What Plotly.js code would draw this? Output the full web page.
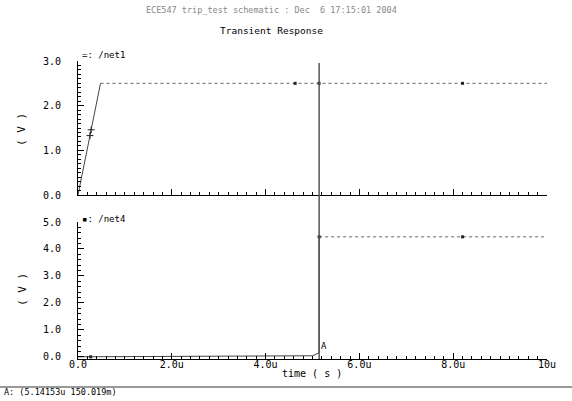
<!DOCTYPE html>
<html><head><meta charset="utf-8">
<script src="https://cdn.plot.ly/plotly-3.0.1.min.js"></script>
<style>html,body{margin:0;padding:0;background:#fff}#c{width:572px;height:401px}</style>
</head><body><div id="c"></div>
<script>
// time in microseconds
var net1RampT = [0, 0.48];
var net1RampV = [0, 2.5];
var net1FlatT = [0.48, 10];
var net1FlatV = [2.5, 2.5];
var net1CrossT = [0.255, 0.28];
var net1CrossV = [1.33, 1.46];
var net1SqT = [4.63, 5.14, 8.2];
var net1SqV = [2.5, 2.5, 2.5];

var net4LowT = [0, 4.6, 5.0, 5.14153];
var net4LowV = [0, 0.015, 0.04, 0.150019];
var net4JumpT = [5.14153, 5.14153];
var net4JumpV = [0.150019, 4.45];
var net4HighT = [5.14153, 10];
var net4HighV = [4.45, 4.45];
var net4SqT = [0.27, 5.14153, 8.2];
var net4SqV = [0, 4.45, 4.45];

var xLabelAlias = {"0.0": "0.0", "2.0": "2.0u", "4.0": "4.0u", "6.0": "6.0u", "8.0": "8.0u", "10.0": "10u"};

var cursorT = 5.14153;

var F = "DejaVu Sans Mono, monospace";

var lineTraces = [
  {x: net1RampT, y: net1RampV, xaxis: 'x', yaxis: 'y', mode: 'lines', line: {color: '#444', width: 1}},
  {x: net1FlatT, y: net1FlatV, xaxis: 'x', yaxis: 'y', mode: 'lines', line: {color: '#666', width: 1, dash: 'dot'}},
  {x: net4LowT, y: net4LowV, xaxis: 'x2', yaxis: 'y2', mode: 'lines', line: {color: '#444', width: 1}},
  {x: net4JumpT, y: net4JumpV, xaxis: 'x2', yaxis: 'y2', mode: 'lines', line: {color: '#111', width: 1}},
  {x: net4HighT, y: net4HighV, xaxis: 'x2', yaxis: 'y2', mode: 'lines', line: {color: '#666', width: 1, dash: 'dot'}}
];
var markerTraces = [
  {x: net1CrossT, y: net1CrossV, xaxis: 'x', yaxis: 'y', mode: 'markers', marker: {symbol: 'cross-thin-open', size: 5, color: '#222', line: {color: '#222', width: 1}}},
  {x: net1SqT, y: net1SqV, xaxis: 'x', yaxis: 'y', mode: 'markers', marker: {symbol: 'square', size: 3, color: '#222'}},
  {x: net4SqT, y: net4SqV, xaxis: 'x2', yaxis: 'y2', mode: 'markers', marker: {symbol: 'square', size: 3, color: '#222'}}
];

function xax(showLabels, anchor) {
  var a = {
    anchor: anchor, domain: [0, 1], range: [0, 10], showgrid: false, zeroline: false,
    showline: true, linecolor: '#000', linewidth: 1,
    ticks: 'inside', ticklen: 6, tickcolor: '#000', tickwidth: 1,
    tickmode: 'linear', tick0: 0, dtick: 2, tickformat: '.1f',
    showticklabels: showLabels,
    minor: {ticks: 'inside', dtick: 0.2, ticklen: 3, tickcolor: '#000'}
  };
  if (showLabels) { a.labelalias = xLabelAlias; a.ticklabelstandoff = -4; }
  return a;
}
function yax(range, dom, minorDt, anchor) {
  return {
    anchor: anchor, domain: dom, range: range, showgrid: false, zeroline: false,
    showline: true, linecolor: '#000', linewidth: 1,
    ticks: 'inside', ticklen: 6, tickcolor: '#000', tickwidth: 1,
    tickmode: 'linear', tick0: 0, dtick: 1, tickformat: '.1f', ticklabelstandoff: 14,
    minor: {ticks: 'inside', dtick: minorDt, ticklen: 3, tickcolor: '#000'}
  };
}

function ann(text, x, y, size, color, xanchor, extra) {
  var a = {text: text, xref: 'paper', yref: 'paper', x: x, y: y, showarrow: false,
    xanchor: xanchor || 'center', yanchor: 'middle', font: {family: F, size: size, color: color || '#000'}};
  if (extra) for (var k in extra) a[k] = extra[k];
  return a;
}

var layout = {
  width: 572, height: 401,
  margin: {l: 78, r: 25, t: 61, b: 42},
  showlegend: false,
  font: {family: F, size: 10, color: '#000'},
  xaxis: xax(false, 'y'),
  yaxis: yax([0, 3], [0.5503, 1], 0.1, 'x'),
  xaxis2: xax(true, 'y2'),
  yaxis2: yax([-0.08, 5], [0, 0.4597], 0.2, 'x2')
};

var shapes = [
  {type: 'line', xref: 'x', yref: 'paper', x0: cursorT, x1: cursorT, y0: 0, y1: 0.9933,
   line: {color: '#555', width: 1.5}},
  {type: 'line', xref: 'paper', yref: 'paper', x0: -0.17, x1: 1.06, y0: -0.094, y1: -0.094,
   line: {color: '#777', width: 1.5}}
];
var annotations = [
  ann('ECE547 trip_test schematic : Dec  6 17:15:01 2004', 0.4136, 1.171, 8.5, '#888'),
  ann('Transient Response', 0.4136, 1.1007, 9.5, '#000'),
  ann('=: /net1', 0.004, 1.0201, 9, '#000', 'left'),
  ann('\u25aa: /net4', 0.004, 0.4698, 9, '#000', 'left'),
  ann('( V )', -0.1194, 0.7685, 11, '#000', 'center', {textangle: -90}),
  ann('( V )', -0.1194, 0.2315, 11, '#000', 'center', {textangle: -90}),
  ann('time ( s )', 0.4989, -0.047, 10, '#000'),
  {text: 'A', xref: 'x2', yref: 'y2', x: cursorT, y: 0.150019, xanchor: 'left', yanchor: 'bottom',
   showarrow: false, font: {family: F, size: 9, color: '#000'}},
  ann('A: (5.14153u 150.019m)', -0.162, -0.1107, 8.5, '#000', 'left')
];

var gd = document.getElementById('c');
function tickCount() { return gd.querySelectorAll('path.ticks').length; }

Plotly.newPlot(gd, lineTraces, layout, {staticPlot: true, displayModeBar: false})
  .then(function () {
    return Plotly.relayout(gd, {shapes: shapes, annotations: annotations});
  })
  .then(function () {
    var n0 = tickCount();
    return Plotly.addTraces(gd, markerTraces).then(function () {
      if (tickCount() < n0) {
        return Plotly.deleteTraces(gd, [5, 6, 7]);
      }
    });
  });
</script></body></html>
